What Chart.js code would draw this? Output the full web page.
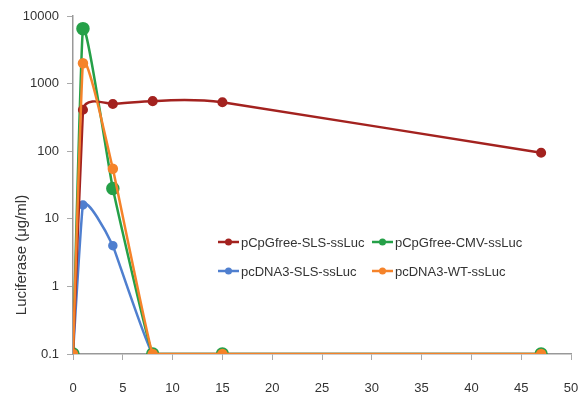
<!DOCTYPE html>
<html lang="en">
<head>
<meta charset="UTF-8">
<title>Luciferase expression</title>
<style>
  body { margin: 0; background: #fff; }
  #wrap { width: 580px; height: 397px; }
</style>
<script src="https://cdn.jsdelivr.net/npm/chart.js"></script>
</head>
<body>
<div id="wrap"><canvas id="chart" width="580" height="397"></canvas></div>
<script>
// sampling days and luciferase levels (ug/ml) per construct
const days = [0, 1, 4, 8, 15, 47];
const cpgSls = [0.1, 410, 500, 550, 530, 95];
const cpgCmv = [0.1, 6500, 28, 0.1, 0.1, 0.1];
const dnaSls = [0.1, 16, 4, 0.1, 0.1, 0.1];
const dnaWt = [0.1, 2000, 55, 0.1, 0.1, 0.1];
const yTicks = [0.1, 1, 10, 100, 1000, 10000];

const FONT = '"Liberation Sans", Arial, sans-serif';
const TEXT = '#333';

const series = [
  { label: 'pCpGfree-SLS-ssLuc', values: cpgSls, color: '#A3221F', r: 3.8, order: 1 },
  { label: 'pCpGfree-CMV-ssLuc', values: cpgCmv, color: '#25A048', r: 5.5, order: 2 },
  { label: 'pcDNA3-SLS-ssLuc', values: dnaSls, color: '#4F7FCF', r: 3.5, order: 3 },
  { label: 'pcDNA3-WT-ssLuc', values: dnaWt, color: '#F5832A', r: 4, order: 0 }
];

// legend sits inside the plot, two columns
const legendSlots = [[218, 242], [372, 242], [218, 271], [372, 271]];

const clamp = (v, lo, hi) => Math.min(hi, Math.max(lo, v));

// spreadsheet-style smoothing: the handle reaching into the shorter
// neighbouring gap stays short, so curves meet the floor steeply
const smoothing = {
  id: 'smoothing',
  beforeDatasetDraw(chart, args) {
    const meta = args.meta;
    const pts = meta.data;
    const area = chart.chartArea;
    const k = 0.12;
    pts.forEach((p, i) => {
      const a = pts[i - 1] || p;
      const b = pts[i + 1] || p;
      const d01 = Math.hypot(p.x - a.x, p.y - a.y);
      const d12 = Math.hypot(b.x - p.x, b.y - p.y);
      const sum = d01 + d12 || 1;
      const tx = b.x - a.x, ty = b.y - a.y;
      const len = Math.hypot(tx, ty) || 1;
      const ux = tx / len, uy = ty / len;
      const inArm = Math.min(k * (d12 / sum) * len, d01 / 2);
      const outArm = Math.min(k * (d01 / sum) * len, d12 / 2);
      p.cp1x = p.x - ux * inArm;
      p.cp1y = clamp(p.y - uy * inArm, area.top, area.bottom);
      p.cp2x = p.x + ux * outArm;
      p.cp2y = clamp(p.y + uy * outArm, area.top, area.bottom);
    });
    meta.dataset._pointsUpdated = true;
    meta.dataset._path = undefined;
  }
};

const overlay = {
  id: 'overlay',
  afterDraw(chart) {
    const ctx = chart.ctx;
    ctx.save();
    // axis title
    ctx.fillStyle = TEXT;
    ctx.font = '15px ' + FONT;
    ctx.textAlign = 'center';
    ctx.textBaseline = 'middle';
    ctx.translate(22, 255);
    ctx.rotate(-Math.PI / 2);
    ctx.fillText('Luciferase (μg/ml)', 0, 0);
    ctx.restore();

    ctx.save();
    ctx.font = '13px ' + FONT;
    ctx.textBaseline = 'middle';
    series.forEach((s, i) => {
      const [x, y] = legendSlots[i];
      ctx.strokeStyle = s.color;
      ctx.lineWidth = 2.5;
      ctx.beginPath();
      ctx.moveTo(x, y);
      ctx.lineTo(x + 21, y);
      ctx.stroke();
      ctx.fillStyle = s.color;
      ctx.beginPath();
      ctx.arc(x + 10.5, y, 3.5, 0, Math.PI * 2);
      ctx.fill();
      ctx.fillStyle = TEXT;
      ctx.textAlign = 'left';
      ctx.fillText(s.label, x + 23, y + 1);
    });
    ctx.restore();
  }
};

new Chart(document.getElementById('chart'), {
  type: 'line',
  data: {
    datasets: series.map(s => ({
      label: s.label,
      data: days.map((d, i) => ({ x: d, y: s.values[i] })),
      borderColor: s.color,
      backgroundColor: s.color,
      pointBackgroundColor: s.color,
      pointBorderColor: s.color,
      pointRadius: s.r,
      borderWidth: 2.5,
      tension: 0.3,
      order: s.order
    }))
  },
  options: {
    responsive: false,
    animation: false,
    layout: { padding: { top: 16, right: 9, left: 0, bottom: 0 } },
    plugins: { legend: { display: false }, tooltip: { enabled: false } },
    scales: {
      x: {
        type: 'linear',
        min: 0,
        max: 50,
        ticks: { stepSize: 5, color: TEXT, font: { family: FONT, size: 13 }, padding: 21 },
        grid: { drawOnChartArea: false, tickLength: 6, color: '#aaa' },
        border: { color: '#999', width: 1.5 },
        afterFit(scale) {
          scale.height = 43;
          // keep the wide label gap from eating into the plot width
          scale.paddingLeft = 0;
          scale.paddingRight = 9;
        }
      },
      y: {
        type: 'logarithmic',
        min: 0.1,
        max: 10000,
        afterBuildTicks(scale) { scale.ticks = yTicks.map(v => ({ value: v })); },
        ticks: {
          color: TEXT,
          font: { family: FONT, size: 13 },
          padding: 8,
          callback: v => String(v)
        },
        grid: { drawOnChartArea: false, tickLength: 6, color: '#aaa' },
        border: { color: '#999', width: 1.5 },
        afterFit(scale) {
          scale.width = 73;
          scale.paddingTop = 0;
          scale.paddingBottom = 0;
        }
      }
    }
  },
  plugins: [smoothing, overlay]
});
</script>
</body>
</html>
